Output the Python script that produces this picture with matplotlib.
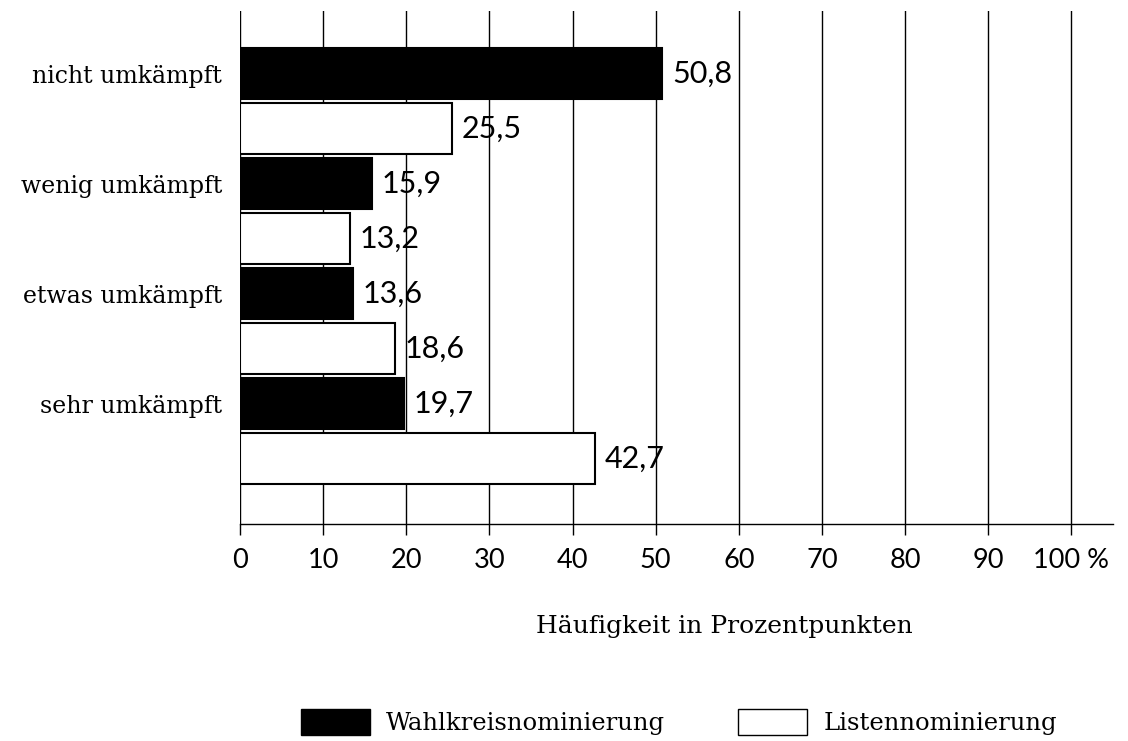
import numpy as np
import matplotlib
matplotlib.use("Agg")
import matplotlib.pyplot as plt
from matplotlib.patches import Patch

categories = ["nicht umkämpft", "wenig umkämpft", "etwas umkämpft", "sehr umkämpft"]
wahlkreis = [50.8, 15.9, 13.6, 19.7]
liste = [25.5, 13.2, 18.6, 42.7]
xticks = [0, 10, 20, 30, 40, 50, 60, 70, 80, 90, 100]
xticklabels = ["0", "10", "20", "30", "40", "50", "60", "70", "80", "90", "100 %"]

serif = "DejaVu Serif"
sans = "Lato"

fig = plt.figure(figsize=(11.28, 7.41), dpi=100)
ax = fig.add_axes([240 / 1128, 1 - 524 / 741, (1113 - 240) / 1128, (524 - 11) / 741])

y = np.arange(len(categories))
h = 0.465
y_black = y - 0.25
y_white = y + 0.25

ax.barh(y_black, wahlkreis, height=h, color="black", edgecolor="black", linewidth=1.5, zorder=2)
ax.barh(y_white, liste, height=h, color="white", edgecolor="black", linewidth=1.5, zorder=2)

for yy, v in zip(y_black, wahlkreis):
    ax.annotate(f"{v:.1f}".replace(".", ","), (v, yy), xytext=(7, 0), textcoords="offset points",
                va="center", ha="left", fontsize=22, family=sans, zorder=3)
for yy, v in zip(y_white, liste):
    ax.annotate(f"{v:.1f}".replace(".", ","), (v, yy), xytext=(7, 0), textcoords="offset points",
                va="center", ha="left", fontsize=22, family=sans, zorder=3)

ax.set_xlim(0, 105)
ax.set_ylim(3.845, -0.82)
ax.set_xticks(xticks)
ax.set_xticklabels(xticklabels, fontsize=19.5, family=sans)
ax.set_yticks(y_black)
ax.set_yticklabels(categories, fontsize=17, family=serif)
ax.tick_params(axis="y", length=0, pad=13)
ax.tick_params(axis="x", direction="out", length=8, width=1, pad=9)

for x in xticks:
    ax.axvline(x, color="black", lw=1, zorder=1)

for s in ["top", "right", "left"]:
    ax.spines[s].set_visible(False)
ax.spines["bottom"].set_linewidth(1)

fig.text(724 / 1128, 1 - 627 / 741, "Häufigkeit in Prozentpunkten", ha="center", va="center",
         fontsize=18, family=serif)

handles = [Patch(facecolor="black", edgecolor="black", label="Wahlkreisnominierung"),
           Patch(facecolor="white", edgecolor="black", label="Listennominierung")]
fig.legend(handles=handles, loc="center", bbox_to_anchor=(679 / 1128, 1 - 722 / 741), ncol=2,
           frameon=False, prop={"family": serif, "size": 17.5}, handlelength=2.85, handleheight=1.25,
           columnspacing=3, handletextpad=0.65)

fig.savefig("out.png", dpi=100)
